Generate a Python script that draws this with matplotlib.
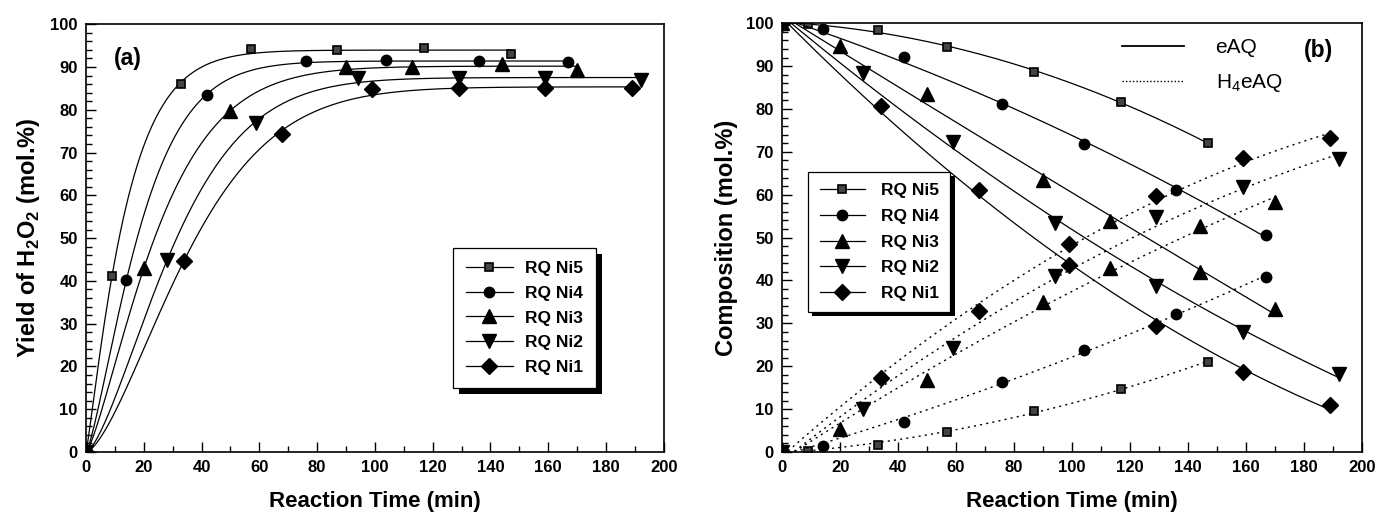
import numpy as np
import matplotlib
matplotlib.use('Agg')
import matplotlib.pyplot as plt
from matplotlib.lines import Line2D
import matplotlib.patheffects as pe
from matplotlib.ticker import MultipleLocator

plt.rcParams['font.family'] = ['Liberation Sans', 'DejaVu Sans']
plt.rcParams['font.weight'] = 'bold'
plt.rcParams['mathtext.fontset'] = 'custom'
plt.rcParams['mathtext.rm'] = 'Liberation Sans:normal'
plt.rcParams['mathtext.bf'] = 'Liberation Sans:bold'

# ---------------- data ----------------
catalysts = ['RQ Ni5', 'RQ Ni4', 'RQ Ni3', 'RQ Ni2', 'RQ Ni1']
markers = ['s', 'o', '^', 'v', 'D']

time_ni5 = [0, 9, 33, 57, 87, 117, 147]
time_ni4 = [0, 14, 42, 76, 104, 136, 167]
time_ni3 = [0, 20, 50, 90, 113, 144, 170]
time_ni2 = [0, 28, 59, 94, 129, 159, 192]
time_ni1 = [0, 34, 68, 99, 129, 159, 189]

# (a) H2O2 yield, mol.%
yield_ni5 = [0, 41.2, 86.0, 94.1, 93.9, 94.5, 93.0]
yield_ni4 = [0, 40.2, 83.4, 91.4, 91.6, 91.4, 91.2]
yield_ni3 = [0, 43.1, 79.8, 90.0, 90.0, 90.6, 89.2]
yield_ni2 = [0, 44.9, 76.9, 87.4, 87.5, 87.5, 86.9]
yield_ni1 = [0, 44.6, 74.3, 84.9, 85.0, 85.1, 85.2]

# (b) eAQ composition, mol.%
eaq_ni5 = [100, 99.8, 98.5, 94.5, 88.6, 81.6, 72.0]
eaq_ni4 = [100, 98.7, 92.1, 81.1, 71.8, 61.1, 50.6]
eaq_ni3 = [100, 94.8, 83.6, 63.5, 53.8, 41.9, 33.3]
eaq_ni2 = [100, 88.4, 72.3, 53.5, 38.8, 27.9, 18.3]
eaq_ni1 = [100, 80.8, 61.1, 43.6, 29.3, 18.6, 11.0]

# (b) H4eAQ composition, mol.%
h4eaq_ni5 = [0, 0.3, 1.7, 4.7, 9.5, 14.8, 21.0]
h4eaq_ni4 = [0, 1.5, 7.1, 16.3, 23.7, 32.2, 40.9]
h4eaq_ni3 = [0, 5.4, 16.8, 34.9, 43.0, 52.7, 58.3]
h4eaq_ni2 = [0, 10.1, 24.3, 41.1, 54.8, 61.8, 68.3]
h4eaq_ni1 = [0, 17.3, 33.0, 48.4, 59.6, 68.5, 73.2]

times = [time_ni5, time_ni4, time_ni3, time_ni2, time_ni1]
yields = [yield_ni5, yield_ni4, yield_ni3, yield_ni2, yield_ni1]
eaqs = [eaq_ni5, eaq_ni4, eaq_ni3, eaq_ni2, eaq_ni1]
h4eaqs = [h4eaq_ni5, h4eaq_ni4, h4eaq_ni3, h4eaq_ni2, h4eaq_ni1]


def weibull_fit(t, y):
    t = np.asarray(t, float)
    y = np.asarray(y, float)
    best = None
    for k in np.logspace(-2.5, -0.5, 200):
        for n in np.linspace(0.8, 2.2, 71):
            f = 1 - np.exp(-(k * t) ** n)
            A = f.dot(y) / f.dot(f)
            sse = ((A * f - y) ** 2).sum()
            if best is None or sse < best[0]:
                best = (sse, A, k, n)
    _, A, k, n = best
    return lambda tt: A * (1 - np.exp(-(k * tt) ** n))


def mstyle(m):
    if m == 's':
        return dict(marker='s', markersize=5.8, markerfacecolor='#444444',
                    markeredgecolor='black', markeredgewidth=1.2)
    size = {'o': 7.5, '^': 9.5, 'v': 9.5, 'D': 7.8}[m]
    return dict(marker=m, markersize=size, markerfacecolor='black',
                markeredgecolor='black')


fig = plt.figure(figsize=(13.77, 5.16), dpi=100)
axa = fig.add_axes([0.0625, 0.124, 0.4195, 0.829])
axb = fig.add_axes([0.568, 0.124, 0.421, 0.831])

for ax in (axa, axb):
    ax.set_xlim(0, 200)
    ax.set_ylim(0, 100)
    ax.xaxis.set_major_locator(MultipleLocator(20))
    ax.xaxis.set_minor_locator(MultipleLocator(10))
    ax.yaxis.set_major_locator(MultipleLocator(10))
    ax.yaxis.set_minor_locator(MultipleLocator(2))
    ax.tick_params(which='both', direction='in', top=False, right=False,
                   labelsize=12, width=1.0, pad=6)
    ax.tick_params(which='major', length=7)
    ax.tick_params(which='minor', length=4)
    for s in ax.spines.values():
        s.set_linewidth(1.2)
    ax.set_xlabel('Reaction Time (min)', fontsize=16, fontweight='bold', labelpad=11)

# ---------------- panel (a) ----------------
handles_a = []
for name, m, t, y in zip(catalysts, markers, times, yields):
    f = weibull_fit(t, y)
    tt = np.linspace(0, max(t), 300)
    axa.plot(tt, f(tt), color='black', lw=0.9)
    axa.plot(t, y, linestyle='none', **mstyle(m))
    handles_a.append(Line2D([], [], color='black', lw=0.9, **mstyle(m)))

axa.set_ylabel(r'Yield of H$_{\mathbf{2}}$O$_{\mathbf{2}}$ (mol.%)',
               fontsize=17, fontweight='bold', labelpad=6)
axa.text(0.048, 0.92, '(a)', transform=axa.transAxes, fontsize=16.5,
         fontweight='bold', ha='left', va='center')
leg_a = axa.legend(handles_a, catalysts, loc='upper left',
                   bbox_to_anchor=(0.635, 0.477), borderaxespad=0,
                   fancybox=False, framealpha=1, edgecolor='black',
                   prop={'size': 12.5, 'weight': 'bold'}, handlelength=2.7,
                   labelspacing=0.55, borderpad=0.75, handletextpad=0.7)
leg_a.get_frame().set_linewidth(0.9)
leg_a.get_frame().set_path_effects([
    pe.SimplePatchShadow(offset=(4.5, -4.5), shadow_rgbFace='black', alpha=1),
    pe.Normal()])

# ---------------- panel (b) ----------------
handles_b = []
for name, m, t, e, h in zip(catalysts, markers, times, eaqs, h4eaqs):
    tt = np.linspace(0, max(t), 300)
    pe_ = np.polyfit(t, e, 2)
    ph_ = np.polyfit(t, h, 2)
    axb.plot(tt, np.polyval(pe_, tt), color='black', lw=0.9)
    axb.plot(tt, np.clip(np.polyval(ph_, tt), 0, None), color='black', lw=1.0,
             linestyle=(0, (1.5, 3)))
    axb.plot(t, e, linestyle='none', **mstyle(m))
    axb.plot(t, h, linestyle='none', **mstyle(m))
    handles_b.append(Line2D([], [], color='black', lw=0.9, **mstyle(m)))

axb.set_ylabel('Composition (mol.%)', fontsize=17, fontweight='bold', labelpad=6)
axb.text(0.925, 0.937, '(b)', transform=axb.transAxes, fontsize=16.5,
         fontweight='bold', ha='center', va='center')
leg_b = axb.legend(handles_b, catalysts, loc='upper left',
                   bbox_to_anchor=(0.045, 0.653), borderaxespad=0,
                   fancybox=False, framealpha=1, edgecolor='black',
                   prop={'size': 12.5, 'weight': 'bold'}, handlelength=2.6,
                   labelspacing=0.6, borderpad=0.65, handletextpad=0.95)
leg_b.get_frame().set_linewidth(0.9)
leg_b.get_frame().set_path_effects([
    pe.SimplePatchShadow(offset=(3, -3), shadow_rgbFace='black', alpha=1),
    pe.Normal()])
axb.add_artist(leg_b)

style_handles = [Line2D([], [], color='black', lw=1.3),
                 Line2D([], [], color='black', lw=1.0, linestyle=(0, (1, 1.5)))]
leg_s = axb.legend(style_handles, ['eAQ', r'H$_{\mathrm{4}}$eAQ'], loc='upper left',
                   bbox_to_anchor=(0.586, 0.966), borderaxespad=0, frameon=False,
                   prop={'size': 15, 'weight': 'normal'}, handlelength=3.0,
                   labelspacing=0.75, handletextpad=1.5, borderpad=0)

fig.savefig('out.png', dpi=100)
